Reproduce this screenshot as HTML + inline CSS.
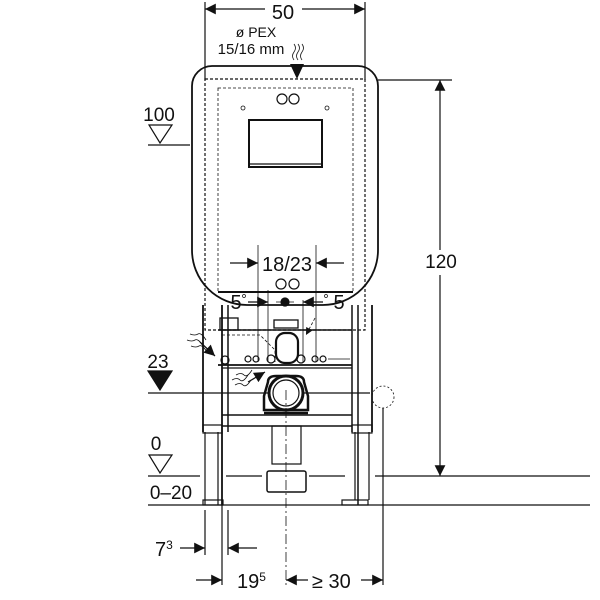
<!DOCTYPE html>
<html><head><style>html,body{margin:0;background:#fff}svg{display:block}text{font-family:"Liberation Sans",sans-serif;fill:#111}</style></head>
<body>
<svg width="600" height="600" viewBox="0 0 600 600" xmlns="http://www.w3.org/2000/svg" stroke="#111" fill="none" stroke-width="1.2">
<defs>
<marker id="a" viewBox="0 0 10 10" refX="10" refY="5" markerWidth="11" markerHeight="9" orient="auto-start-reverse"><path d="M0,0L10,5L0,10z" fill="#111" stroke="none"/></marker>
</defs>
<!-- 50 dim -->
<line x1="205" y1="2" x2="205" y2="80"/><line x1="365" y1="2" x2="365" y2="80"/>
<line x1="232" y1="9" x2="205" y2="9" marker-end="url(#a)"/><line x1="338" y1="9" x2="365" y2="9" marker-end="url(#a)"/>
<line x1="232" y1="9" x2="265" y2="9"/><line x1="302" y1="9" x2="338" y2="9"/>
<text x="283" y="19" font-size="20" text-anchor="middle" stroke="none">50</text>
<text x="256" y="37" font-size="14" text-anchor="middle" stroke="none">ø PEX</text>
<text x="251" y="54" font-size="15" text-anchor="middle" stroke="none">15/16 mm</text>
<path d="M294,44q3,4 0,8q-3,4 0,8M298,44q3,4 0,8q-3,4 0,8M302,44q3,4 0,8q-3,4 0,8" stroke-width="0.8"/>
<path d="M290,64L304,64L297,79z" fill="#111" stroke="none"/>
<!-- cistern -->
<path d="M212,66H358A20,20 0 0 1 378,86V250A55,55 0 0 1 323,305H247A55,55 0 0 1 192,250V86A20,20 0 0 1 212,66z" stroke-width="1.8"/>
<rect x="205" y="79" width="160" height="251" stroke-dasharray="3,2"/>
<rect x="218" y="88" width="135" height="204" stroke-dasharray="3,2" stroke-width="0.8"/>
<line x1="218" y1="292" x2="353" y2="292" stroke-width="2"/>
<circle cx="282" cy="99" r="5"/><circle cx="294" cy="99" r="5"/>
<circle cx="243" cy="108" r="2" stroke-width="0.8"/><circle cx="327" cy="108" r="2" stroke-width="0.8"/>
<rect x="249" y="120" width="73" height="47" stroke-width="2"/>
<line x1="249" y1="164" x2="322" y2="164"/>
<!-- 120 dim -->
<line x1="378" y1="80" x2="452" y2="80"/>
<line x1="440" y1="250" x2="440" y2="80" marker-end="url(#a)"/>
<line x1="440" y1="275" x2="440" y2="476" marker-end="url(#a)"/>
<text x="441" y="268" font-size="19" text-anchor="middle" stroke="none">120</text>
<!-- 100 -->
<text x="159" y="121" font-size="19" text-anchor="middle" stroke="none">100</text>
<path d="M149,125H172L160,143z"/><line x1="148" y1="145" x2="190" y2="145"/>
<!-- 18/23 -->
<line x1="258" y1="245" x2="258" y2="362" stroke-width="0.8"/><line x1="316" y1="245" x2="316" y2="362" stroke-width="0.8"/>
<line x1="230" y1="263" x2="258" y2="263" marker-end="url(#a)"/><line x1="344" y1="263" x2="316" y2="263" marker-end="url(#a)"/>
<text x="287" y="271" font-size="20" text-anchor="middle" stroke="none">18/23</text>
<text x="236" y="309" font-size="20" text-anchor="middle" stroke="none">5</text>
<text x="339" y="309" font-size="20" text-anchor="middle" stroke="none">5</text>
<circle cx="244" cy="296" r="1.5" stroke-width="0.7"/><circle cx="326" cy="296" r="1.5" stroke-width="0.7"/>
<line x1="248" y1="302" x2="268" y2="302" marker-end="url(#a)"/><line x1="323" y1="302" x2="303" y2="302" marker-end="url(#a)"/>
<line x1="268" y1="290" x2="268" y2="362" stroke-width="0.8"/><line x1="303" y1="300" x2="303" y2="362" stroke-width="0.8"/>
<circle cx="285" cy="302" r="4" fill="#111"/>
<line x1="276" y1="302" x2="294" y2="302" stroke-width="0.8"/>
<circle cx="281" cy="284" r="5"/><circle cx="294" cy="284" r="5"/>
<!-- frame -->
<line x1="203" y1="305" x2="203" y2="432" stroke-width="1.8"/><line x1="222" y1="305" x2="222" y2="505" stroke-width="1.8"/>
<line x1="228" y1="305" x2="228" y2="432" stroke-width="1.5"/>
<line x1="205" y1="432" x2="205" y2="505"/><line x1="218" y1="432" x2="218" y2="505"/>
<rect x="203" y="425" width="19" height="8"/>
<line x1="352" y1="305" x2="352" y2="432" stroke-width="1.5"/><line x1="358" y1="305" x2="358" y2="505" stroke-width="1.5"/>
<line x1="372" y1="305" x2="372" y2="432" stroke-width="1.8"/>
<line x1="355" y1="432" x2="355" y2="500"/><line x1="369" y1="432" x2="369" y2="500"/>
<rect x="352" y="425" width="20" height="8"/>
<line x1="218" y1="330" x2="352" y2="330" stroke-width="1.5"/>
<line x1="218" y1="365" x2="352" y2="365" stroke-width="1.8"/>
<line x1="222" y1="368" x2="352" y2="368"/>
<line x1="222" y1="415" x2="352" y2="415" stroke-width="1.5"/>
<line x1="222" y1="426" x2="352" y2="426" stroke-width="1.5"/>
<rect x="220" y="318" width="18" height="12" stroke-width="1.3"/>
<path d="M222,335H260L275,350V362" stroke-dasharray="3,2" stroke-width="0.8"/>
<rect x="274" y="320" width="24" height="8" stroke-width="1.3"/>
<rect x="276" y="333" width="22" height="30" rx="9" stroke-width="2.2"/>
<circle cx="225" cy="360" r="4"/><circle cx="248" cy="359" r="3"/><circle cx="256" cy="359" r="3"/>
<circle cx="271" cy="359" r="4"/><circle cx="301" cy="359" r="4"/><circle cx="315" cy="359" r="3"/><circle cx="323" cy="359" r="3"/>
<line x1="328" y1="359" x2="350" y2="359" stroke-width="0.8"/>
<path d="M315,318L306,335" stroke-dasharray="3,2" marker-end="url(#a)" stroke-width="0.8"/>
<path d="M190,334q5,2 8,0t8,6M187,340q5,2 8,0t8,6M191,346q5,2 8,0t8,6" stroke-width="0.8"/>
<line x1="200" y1="342" x2="215" y2="356" marker-end="url(#a)"/>
<path d="M235,385q5,-3 8,0t8,-5M232,380q5,-3 8,0t8,-5M236,375q5,-3 8,0t8,-5" stroke-width="0.8"/>
<line x1="248" y1="382" x2="265" y2="372" marker-end="url(#a)"/>
<!-- 23 -->
<text x="158" y="368" font-size="19" text-anchor="middle" stroke="none">23</text>
<path d="M148,371H172L160,390z" fill="#111"/><line x1="148" y1="393" x2="370" y2="393"/>
<!-- pipe -->
<path d="M268,382Q268,376 276,376H296Q304,376 304,382L308,396V410H264V396z" stroke-width="2.5"/>
<circle cx="286" cy="393" r="17" stroke-width="3" fill="#fff"/>
<circle cx="286" cy="393" r="13" stroke-width="1.2"/>
<line x1="264" y1="413" x2="308" y2="413" stroke-width="2.5"/>
<rect x="272" y="426" width="29" height="38"/>
<rect x="267" y="471" width="39" height="21" rx="2" stroke-width="1.5"/>
<circle cx="383" cy="397" r="11" stroke-dasharray="2,2" stroke-width="0.8"/>
<line x1="383" y1="408" x2="383" y2="585"/>
<!-- floor -->
<text x="156" y="450" font-size="19" text-anchor="middle" stroke="none">0</text>
<path d="M149,455H172L160,473z"/>
<path d="M148,476H200M226,476H262M309,476H345M375,476H590"/>
<text x="171" y="499" font-size="19" text-anchor="middle" stroke="none">0–20</text>
<line x1="148" y1="505" x2="590" y2="505"/>
<rect x="203" y="500" width="20" height="5"/><rect x="342" y="500" width="26" height="5"/>
<line x1="286" y1="390" x2="286" y2="585" stroke-dasharray="10,3,2,3" stroke-width="0.8"/>
<!-- bottom dims -->
<line x1="205" y1="510" x2="205" y2="555"/><line x1="228" y1="510" x2="228" y2="555"/><line x1="222" y1="505" x2="222" y2="585"/>
<text x="155" y="556" font-size="20" stroke="none">7<tspan font-size="12" dy="-7">3</tspan></text>
<line x1="180" y1="548" x2="205" y2="548" marker-end="url(#a)"/><line x1="257" y1="548" x2="228" y2="548" marker-end="url(#a)"/>
<line x1="196" y1="580" x2="222" y2="580" marker-end="url(#a)"/>
<text x="237" y="588" font-size="20" stroke="none">19<tspan font-size="12" dy="-7">5</tspan></text>
<line x1="308" y1="580" x2="286" y2="580" marker-end="url(#a)"/>
<text x="312" y="588" font-size="20" stroke="none">≥ 30</text>
<line x1="361" y1="580" x2="383" y2="580" marker-end="url(#a)"/>
</svg>
</body></html>
